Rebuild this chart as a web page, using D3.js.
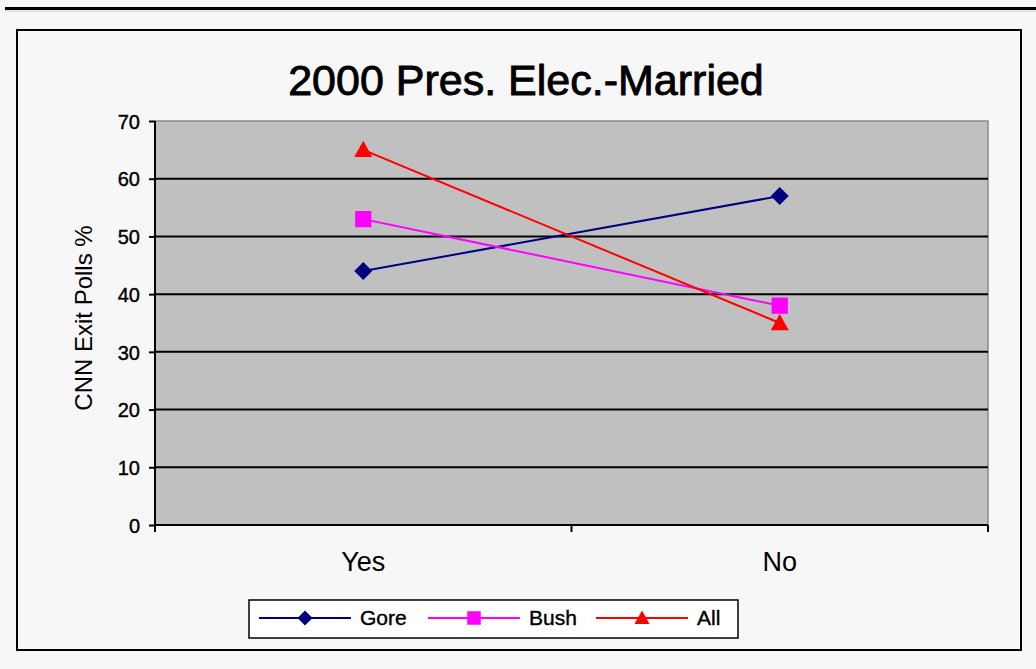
<!DOCTYPE html>
<html><head><meta charset="utf-8">
<script src="https://cdn.jsdelivr.net/npm/d3@7"></script>
<style>body{margin:0;background:#f7f7f7;} svg{display:block;}</style>
</head><body>
<svg id="c" width="1036" height="669"></svg>
<script>
const categories = ["Yes", "No"];
const seriesNames = ["Gore", "Bush", "All"];
const gore = [44, 57];
const bush = [53, 38];
const all = [65, 35];
const yTicks = [0, 10, 20, 30, 40, 50, 60, 70];
const colors = ["#000080", "#ff00ff", "#ff0000"];
const series = [gore, bush, all];
const FONT = "Arial, 'Liberation Sans', sans-serif";

const svg = d3.select("#c");
svg.append("rect").attr("width",1036).attr("height",669).attr("fill","#f7f7f7");
svg.append("line").attr("x1",5).attr("x2",1036).attr("y1",8.5).attr("y2",8.5).attr("stroke","#000").attr("stroke-width",3);
svg.append("line").attr("x1",5).attr("x2",1036).attr("y1",11).attr("y2",11).attr("stroke","#ccc").attr("stroke-width",1);
svg.append("rect").attr("x",17).attr("y",30).attr("width",1004).attr("height",620).attr("fill","none").attr("stroke","#000").attr("stroke-width",2);

const L=155, R=988, T=121, B=525;
const x = d3.scaleBand().domain(categories).range([L,R]);
const y = d3.scaleLinear().domain([0,70]).range([B,T]);

svg.append("rect").attr("x",L).attr("y",T).attr("width",R-L).attr("height",B-T).attr("fill","#c0c0c0").attr("stroke","#8a8a8a").attr("stroke-width",1.5);

// gridlines
svg.append("g").selectAll("line").data(yTicks.filter(d=>d>0&&d<70)).join("line")
  .attr("x1",L).attr("x2",R).attr("y1",d=>y(d)).attr("y2",d=>y(d)).attr("stroke","#000").attr("stroke-width",2);

// y axis
const ya = svg.append("g").attr("transform",`translate(${L},0)`)
  .call(d3.axisLeft(y).tickValues(yTicks).tickSize(6).tickPadding(9));
ya.attr("font-size",null).attr("font-family",null);
ya.select(".domain").attr("stroke","#000").attr("stroke-width",2).attr("d",`M0,${T}V${B+7}`);
ya.selectAll(".tick line").attr("stroke","#000").attr("stroke-width",2);
ya.selectAll("text").style("font-family",FONT).style("font-size","20px").attr("fill","#000").attr("dy","0.36em")
  .attr("stroke","#000").attr("stroke-width",0.4);

// x axis
const xa = svg.append("g").attr("transform",`translate(0,${B})`)
  .call(d3.axisBottom(x).tickSize(0).tickPadding(27));
xa.attr("font-size",null).attr("font-family",null);
xa.select(".domain").attr("stroke","#000").attr("stroke-width",2).attr("d",`M${L},0H${R}`);
xa.selectAll("text").style("font-family",FONT).style("font-size","27px").attr("fill","#000");
svg.append("g").selectAll("line").data([L, (L+R)/2, R]).join("line")
  .attr("x1",d=>d).attr("x2",d=>d).attr("y1",B).attr("y2",B+7).attr("stroke","#000").attr("stroke-width",2);

// title
svg.append("text").attr("x",526).attr("y",95).attr("text-anchor","middle")
  .style("font-family",FONT).style("font-size","43px").attr("stroke","#000").attr("stroke-width",0.9)
  .text("2000 Pres. Elec.-Married");
svg.append("text").attr("transform","translate(92,318) rotate(-90)").attr("text-anchor","middle")
  .style("font-family",FONT).style("font-size","24px").text("CNN Exit Polls %");

const cx = d => x(d)+x.bandwidth()/2;
function marker(k, r){
  if(k===0) return `M0,${-r}L${r},0L0,${r}L${-r},0Z`;
  if(k===1) return `M${-r*0.9},${-r*0.9}H${r*0.9}V${r*0.9}H${-r*0.9}Z`;
  return `M0,${-r}L${r},${r*0.8}H${-r}Z`;
}
const line = d3.line().x((d,i)=>cx(categories[i])).y(d=>y(d));
series.forEach((s,k)=>{
  svg.append("path").attr("d",line(s)).attr("fill","none").attr("stroke",colors[k]).attr("stroke-width",2);
  svg.append("g").selectAll("path").data(s).join("path")
    .attr("transform",(d,i)=>`translate(${cx(categories[i])},${y(d)})`)
    .attr("d",marker(k,9)).attr("fill",colors[k]);
});

// legend
const lg = svg.append("g");
lg.append("rect").attr("x",249).attr("y",600).attr("width",489).attr("height",38).attr("fill","#fff").attr("stroke","#000").attr("stroke-width",1.5);
const lx = [259, 428, 596];
seriesNames.forEach((n,k)=>{
  lg.append("line").attr("x1",lx[k]).attr("x2",lx[k]+92).attr("y1",618).attr("y2",618).attr("stroke",colors[k]).attr("stroke-width",2);
  lg.append("path").attr("transform",`translate(${lx[k]+46},618)`).attr("d",marker(k,7.5)).attr("fill",colors[k]);
  lg.append("text").attr("x",lx[k]+101).attr("y",625).style("font-family",FONT).style("font-size","21px")
    .attr("stroke","#000").attr("stroke-width",0.4).text(n);
});
</script>
</body></html>
